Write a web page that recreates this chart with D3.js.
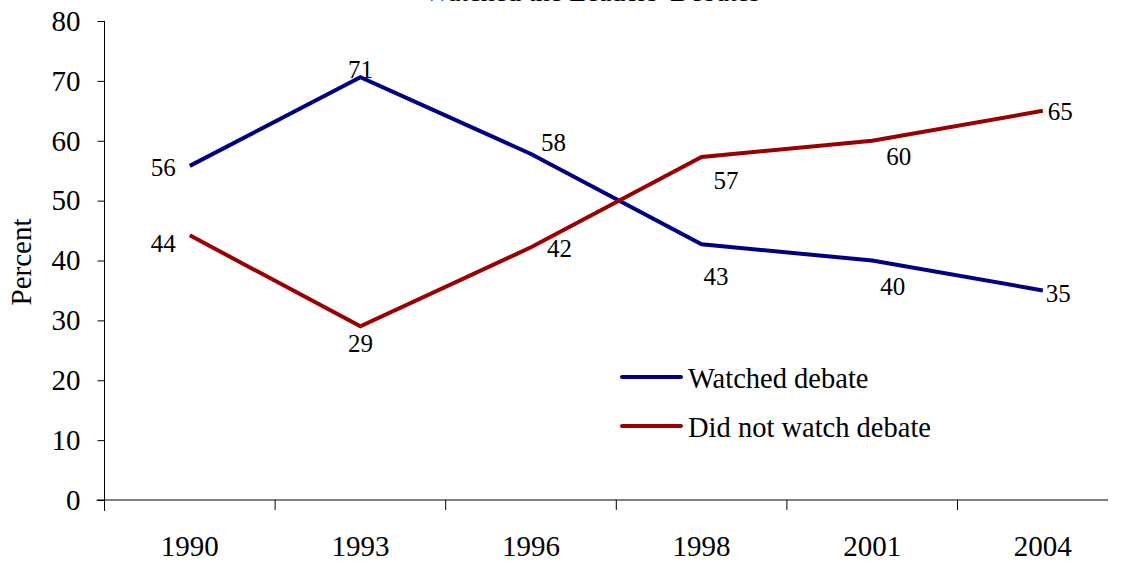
<!DOCTYPE html>
<html>
<head>
<meta charset="utf-8">
<script src="https://cdn.jsdelivr.net/npm/d3@7"></script>
<style>
  html, body { margin: 0; padding: 0; background: #fff; }
  svg { display: block; }
  text { font-family: "Liberation Serif", "Times New Roman", serif; }
</style>
</head>
<body>
<svg id="chart" width="1122" height="562"></svg>
<script>
// ---- data ----
const years = ["1990", "1993", "1996", "1998", "2001", "2004"];
const watched = [55.8, 70.6, 57.8, 42.7, 40.0, 35.0];
const notWatched = [44.2, 29.0, 42.2, 57.3, 60.0, 65.0];
const watchedLabels = ["56", "71", "58", "43", "40", "35"];
const notWatchedLabels = ["44", "29", "42", "57", "60", "65"];
const seriesNames = ["Watched debate", "Did not watch debate"];
const yTicks = [0, 10, 20, 30, 40, 50, 60, 70, 80];
const titleText = "Watched the Leaders' Debates";

// ---- layout / style ----
const FONT = "Liberation Serif";
const colors = ["#000080", "#990000"];
// label offsets relative to point: [dx, dy, anchor]
const watchedOff = [[-14, 10, "end"], [0, 1, "middle"], [10, -3, "start"], [2, 41, "start"], [8, 34, "start"], [3, 12, "start"]];
const notOff = [[-14, 17, "end"], [0, 26, "middle"], [16, 10, "start"], [12, 32, "start"], [14, 24, "start"], [5, 9, "start"]];

const svg = d3.select("#chart");
const mLeft = 104.5, bandW = 170.6, mTop = 21, mBottom = 500, axisEnd = 1108;

const x = d3.scaleBand().domain(years).range([mLeft, mLeft + bandW * years.length]);
const y = d3.scaleLinear().domain([0, 80]).range([mBottom, mTop]);

// title (mostly cut off at top, as in the reference)
svg.append("text").attr("x", 592).attr("y", 1).attr("text-anchor", "middle")
  .attr("font-family", FONT).attr("font-size", 28).attr("fill", "#000").text(titleText);

// y axis
const yAxis = svg.append("g").attr("transform", `translate(${mLeft},0)`)
  .call(d3.axisLeft(y).tickValues(yTicks).tickSize(7).tickPadding(17).tickSizeOuter(0));
yAxis.attr("font-family", FONT);
yAxis.select(".domain").attr("stroke", "#000").attr("d", `M0,${mTop}V${mBottom + 11}`);
yAxis.selectAll(".tick line").attr("stroke", "#000");
yAxis.selectAll(".tick text").attr("font-size", 29).attr("fill", "#000").attr("font-family", FONT);

// x axis (labels at band centers, ticks at band boundaries)
const xAxis = svg.append("g").attr("transform", `translate(0,${mBottom})`)
  .call(d3.axisBottom(x).tickSize(0).tickPadding(35).tickSizeOuter(0));
xAxis.attr("font-family", FONT);
xAxis.select(".domain").attr("stroke", "#000").attr("d", `M${mLeft - 8},0H${axisEnd}`);
xAxis.selectAll(".tick text").attr("font-size", 29).attr("fill", "#000").attr("font-family", FONT);
xAxis.selectAll(".bound").data(years.slice(1)).join("line")
  .attr("x1", d => x(d)).attr("x2", d => x(d)).attr("y1", 0).attr("y2", 10)
  .attr("stroke", "#000");

// y label
svg.append("text").attr("transform", "translate(31,262) rotate(-90)")
  .attr("text-anchor", "middle").attr("font-family", FONT).attr("font-size", 29)
  .attr("fill", "#000").text("Percent");

// lines
const line = d3.line().x((d, i) => x(years[i]) + x.bandwidth() / 2).y(d => y(d));
[watched, notWatched].forEach((vals, s) => {
  svg.append("path").datum(vals).attr("d", line)
    .attr("fill", "none").attr("stroke", colors[s]).attr("stroke-width", 4)
    .attr("stroke-linejoin", "miter");
});

// data labels
function labels(vals, texts, offs) {
  svg.append("g").selectAll("text").data(vals).join("text")
    .attr("x", (d, i) => x(years[i]) + x.bandwidth() / 2 + offs[i][0])
    .attr("y", (d, i) => y(d) + offs[i][1])
    .attr("text-anchor", (d, i) => offs[i][2])
    .attr("font-family", FONT).attr("font-size", 25).attr("fill", "#000")
    .text((d, i) => texts[i]);
}
labels(watched, watchedLabels, watchedOff);
labels(notWatched, notWatchedLabels, notOff);

// legend
const legend = svg.append("g");
seriesNames.forEach((name, i) => {
  const ly = 377 + i * 49;
  legend.append("line").attr("x1", 622).attr("x2", 681).attr("y1", ly).attr("y2", ly)
    .attr("stroke", colors[i]).attr("stroke-width", 4).attr("stroke-linecap", "round");
  legend.append("text").attr("x", 688).attr("y", ly + 11)
    .attr("font-family", FONT).attr("font-size", 28.5)
    .attr("fill", "#000").text(name);
});
</script>
</body>
</html>
